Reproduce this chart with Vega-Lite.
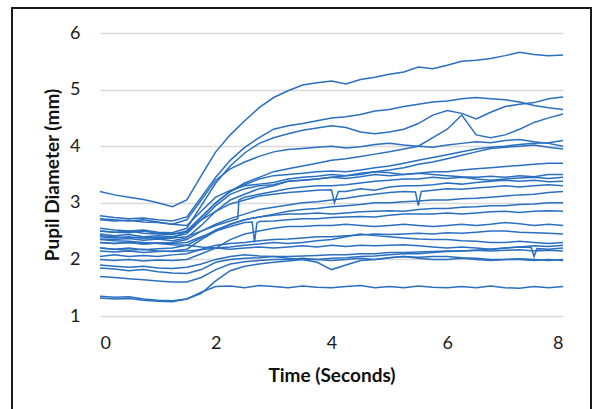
{
"$schema":"https://vega.github.io/schema/vega-lite/v6.json",
"width":579,"height":403,
"autosize":{"type":"none"},
"padding":{"left":12,"top":8,"right":2,"bottom":0},
"background":"white",
"config":{"view":{"stroke":"#1a1a1a","strokeWidth":2},"font":"Lato"},
"data":{"values":[
{"id":1,"t":0,"v":3.2},{"id":1,"t":0.25,"v":3.14},{"id":1,"t":0.5,"v":3.1},{"id":1,"t":0.75,"v":3.06},{"id":1,"t":1,"v":3.0},{"id":1,"t":1.25,"v":2.93},{"id":1,"t":1.5,"v":3.05},{"id":1,"t":1.75,"v":3.48},{"id":1,"t":2,"v":3.9},{"id":1,"t":2.25,"v":4.2},{"id":1,"t":2.5,"v":4.45},{"id":1,"t":2.75,"v":4.68},{"id":1,"t":3,"v":4.86},{"id":1,"t":3.25,"v":4.98},{"id":1,"t":3.5,"v":5.08},{"id":1,"t":3.75,"v":5.12},{"id":1,"t":4,"v":5.15},{"id":1,"t":4.25,"v":5.1},{"id":1,"t":4.5,"v":5.18},{"id":1,"t":4.75,"v":5.22},{"id":1,"t":5,"v":5.27},{"id":1,"t":5.25,"v":5.31},{"id":1,"t":5.5,"v":5.4},{"id":1,"t":5.75,"v":5.37},{"id":1,"t":6,"v":5.43},{"id":1,"t":6.25,"v":5.5},{"id":1,"t":6.5,"v":5.52},{"id":1,"t":6.75,"v":5.55},{"id":1,"t":7,"v":5.6},{"id":1,"t":7.25,"v":5.66},{"id":1,"t":7.5,"v":5.62},{"id":1,"t":7.75,"v":5.6},{"id":1,"t":8,"v":5.61},
{"id":2,"t":0,"v":2.77},{"id":2,"t":0.25,"v":2.74},{"id":2,"t":0.5,"v":2.72},{"id":2,"t":0.75,"v":2.73},{"id":2,"t":1,"v":2.7},{"id":2,"t":1.25,"v":2.68},{"id":2,"t":1.5,"v":2.75},{"id":2,"t":1.75,"v":3.1},{"id":2,"t":2,"v":3.45},{"id":2,"t":2.25,"v":3.75},{"id":2,"t":2.5,"v":3.98},{"id":2,"t":2.75,"v":4.15},{"id":2,"t":3,"v":4.3},{"id":2,"t":3.25,"v":4.36},{"id":2,"t":3.5,"v":4.4},{"id":2,"t":3.75,"v":4.45},{"id":2,"t":4,"v":4.5},{"id":2,"t":4.25,"v":4.52},{"id":2,"t":4.5,"v":4.56},{"id":2,"t":4.75,"v":4.62},{"id":2,"t":5,"v":4.65},{"id":2,"t":5.25,"v":4.7},{"id":2,"t":5.5,"v":4.74},{"id":2,"t":5.75,"v":4.78},{"id":2,"t":6,"v":4.8},{"id":2,"t":6.25,"v":4.84},{"id":2,"t":6.5,"v":4.86},{"id":2,"t":6.75,"v":4.84},{"id":2,"t":7,"v":4.82},{"id":2,"t":7.25,"v":4.78},{"id":2,"t":7.5,"v":4.72},{"id":2,"t":7.75,"v":4.68},{"id":2,"t":8,"v":4.65},
{"id":3,"t":0,"v":2.55},{"id":3,"t":0.25,"v":2.52},{"id":3,"t":0.5,"v":2.5},{"id":3,"t":0.75,"v":2.52},{"id":3,"t":1,"v":2.48},{"id":3,"t":1.25,"v":2.47},{"id":3,"t":1.5,"v":2.55},{"id":3,"t":1.75,"v":2.95},{"id":3,"t":2,"v":3.35},{"id":3,"t":2.25,"v":3.65},{"id":3,"t":2.5,"v":3.88},{"id":3,"t":2.75,"v":4.05},{"id":3,"t":3,"v":4.15},{"id":3,"t":3.25,"v":4.22},{"id":3,"t":3.5,"v":4.28},{"id":3,"t":3.75,"v":4.32},{"id":3,"t":4,"v":4.36},{"id":3,"t":4.25,"v":4.33},{"id":3,"t":4.5,"v":4.25},{"id":3,"t":4.75,"v":4.22},{"id":3,"t":5,"v":4.25},{"id":3,"t":5.25,"v":4.3},{"id":3,"t":5.5,"v":4.4},{"id":3,"t":5.75,"v":4.55},{"id":3,"t":6,"v":4.63},{"id":3,"t":6.25,"v":4.58},{"id":3,"t":6.5,"v":4.48},{"id":3,"t":6.75,"v":4.6},{"id":3,"t":7,"v":4.7},{"id":3,"t":7.25,"v":4.74},{"id":3,"t":7.5,"v":4.77},{"id":3,"t":7.75,"v":4.84},{"id":3,"t":8,"v":4.87},
{"id":4,"t":0,"v":2.42},{"id":4,"t":0.25,"v":2.4},{"id":4,"t":0.5,"v":2.38},{"id":4,"t":0.75,"v":2.4},{"id":4,"t":1,"v":2.37},{"id":4,"t":1.25,"v":2.38},{"id":4,"t":1.5,"v":2.5},{"id":4,"t":1.75,"v":2.75},{"id":4,"t":2,"v":3.0},{"id":4,"t":2.25,"v":3.2},{"id":4,"t":2.5,"v":3.35},{"id":4,"t":2.75,"v":3.45},{"id":4,"t":3,"v":3.55},{"id":4,"t":3.25,"v":3.6},{"id":4,"t":3.5,"v":3.65},{"id":4,"t":3.75,"v":3.7},{"id":4,"t":4,"v":3.75},{"id":4,"t":4.25,"v":3.78},{"id":4,"t":4.5,"v":3.82},{"id":4,"t":4.75,"v":3.86},{"id":4,"t":5,"v":3.9},{"id":4,"t":5.25,"v":3.95},{"id":4,"t":5.5,"v":4.0},{"id":4,"t":5.75,"v":4.15},{"id":4,"t":6,"v":4.3},{"id":4,"t":6.25,"v":4.55},{"id":4,"t":6.5,"v":4.2},{"id":4,"t":6.75,"v":4.15},{"id":4,"t":7,"v":4.2},{"id":4,"t":7.25,"v":4.3},{"id":4,"t":7.5,"v":4.42},{"id":4,"t":7.75,"v":4.5},{"id":4,"t":8,"v":4.57},
{"id":5,"t":0,"v":2.72},{"id":5,"t":0.25,"v":2.7},{"id":5,"t":0.5,"v":2.68},{"id":5,"t":0.75,"v":2.7},{"id":5,"t":1,"v":2.66},{"id":5,"t":1.25,"v":2.62},{"id":5,"t":1.5,"v":2.7},{"id":5,"t":1.75,"v":3.05},{"id":5,"t":2,"v":3.4},{"id":5,"t":2.25,"v":3.6},{"id":5,"t":2.5,"v":3.72},{"id":5,"t":2.75,"v":3.82},{"id":5,"t":3,"v":3.9},{"id":5,"t":3.25,"v":3.94},{"id":5,"t":3.5,"v":3.96},{"id":5,"t":3.75,"v":3.98},{"id":5,"t":4,"v":4.0},{"id":5,"t":4.25,"v":3.97},{"id":5,"t":4.5,"v":3.99},{"id":5,"t":4.75,"v":4.03},{"id":5,"t":5,"v":4.05},{"id":5,"t":5.25,"v":4.02},{"id":5,"t":5.5,"v":4.0},{"id":5,"t":5.75,"v":3.98},{"id":5,"t":6,"v":4.02},{"id":5,"t":6.25,"v":4.05},{"id":5,"t":6.5,"v":4.08},{"id":5,"t":6.75,"v":4.06},{"id":5,"t":7,"v":4.1},{"id":5,"t":7.25,"v":4.12},{"id":5,"t":7.5,"v":4.08},{"id":5,"t":7.75,"v":4.05},{"id":5,"t":8,"v":4.0},
{"id":6,"t":0,"v":2.5},{"id":6,"t":0.25,"v":2.48},{"id":6,"t":0.5,"v":2.5},{"id":6,"t":0.75,"v":2.46},{"id":6,"t":1,"v":2.45},{"id":6,"t":1.25,"v":2.44},{"id":6,"t":1.5,"v":2.5},{"id":6,"t":1.75,"v":2.75},{"id":6,"t":2,"v":3.0},{"id":6,"t":2.25,"v":3.2},{"id":6,"t":2.5,"v":3.32},{"id":6,"t":2.75,"v":3.42},{"id":6,"t":3,"v":3.48},{"id":6,"t":3.25,"v":3.5},{"id":6,"t":3.5,"v":3.52},{"id":6,"t":3.75,"v":3.55},{"id":6,"t":4,"v":3.56},{"id":6,"t":4.25,"v":3.55},{"id":6,"t":4.5,"v":3.58},{"id":6,"t":4.75,"v":3.62},{"id":6,"t":5,"v":3.65},{"id":6,"t":5.25,"v":3.7},{"id":6,"t":5.5,"v":3.75},{"id":6,"t":5.75,"v":3.8},{"id":6,"t":6,"v":3.85},{"id":6,"t":6.25,"v":3.9},{"id":6,"t":6.5,"v":3.95},{"id":6,"t":6.75,"v":3.98},{"id":6,"t":7,"v":4.0},{"id":6,"t":7.25,"v":4.03},{"id":6,"t":7.5,"v":4.05},{"id":6,"t":7.75,"v":4.06},{"id":6,"t":8,"v":4.1},
{"id":7,"t":0,"v":2.36},{"id":7,"t":0.25,"v":2.35},{"id":7,"t":0.5,"v":2.37},{"id":7,"t":0.75,"v":2.34},{"id":7,"t":1,"v":2.36},{"id":7,"t":1.25,"v":2.33},{"id":7,"t":1.5,"v":2.38},{"id":7,"t":1.75,"v":2.6},{"id":7,"t":2,"v":2.85},{"id":7,"t":2.25,"v":3.05},{"id":7,"t":2.5,"v":3.15},{"id":7,"t":2.75,"v":3.25},{"id":7,"t":3,"v":3.3},{"id":7,"t":3.25,"v":3.38},{"id":7,"t":3.5,"v":3.4},{"id":7,"t":3.75,"v":3.42},{"id":7,"t":4,"v":3.45},{"id":7,"t":4.25,"v":3.48},{"id":7,"t":4.5,"v":3.5},{"id":7,"t":4.75,"v":3.55},{"id":7,"t":5,"v":3.58},{"id":7,"t":5.25,"v":3.62},{"id":7,"t":5.5,"v":3.68},{"id":7,"t":5.75,"v":3.72},{"id":7,"t":6,"v":3.78},{"id":7,"t":6.25,"v":3.84},{"id":7,"t":6.5,"v":3.9},{"id":7,"t":6.75,"v":3.96},{"id":7,"t":7,"v":3.98},{"id":7,"t":7.25,"v":4.0},{"id":7,"t":7.5,"v":4.02},{"id":7,"t":7.75,"v":3.98},{"id":7,"t":8,"v":3.95},
{"id":8,"t":0,"v":2.45},{"id":8,"t":0.25,"v":2.42},{"id":8,"t":0.5,"v":2.44},{"id":8,"t":0.75,"v":2.4},{"id":8,"t":1,"v":2.42},{"id":8,"t":1.25,"v":2.4},{"id":8,"t":1.5,"v":2.45},{"id":8,"t":1.75,"v":2.7},{"id":8,"t":2,"v":2.95},{"id":8,"t":2.25,"v":3.15},{"id":8,"t":2.5,"v":3.25},{"id":8,"t":2.75,"v":3.3},{"id":8,"t":3,"v":3.32},{"id":8,"t":3.25,"v":3.38},{"id":8,"t":3.5,"v":3.4},{"id":8,"t":3.75,"v":3.42},{"id":8,"t":4,"v":3.45},{"id":8,"t":4.25,"v":3.43},{"id":8,"t":4.5,"v":3.46},{"id":8,"t":4.75,"v":3.5},{"id":8,"t":5,"v":3.48},{"id":8,"t":5.25,"v":3.5},{"id":8,"t":5.5,"v":3.52},{"id":8,"t":5.75,"v":3.55},{"id":8,"t":6,"v":3.55},{"id":8,"t":6.25,"v":3.58},{"id":8,"t":6.5,"v":3.6},{"id":8,"t":6.75,"v":3.62},{"id":8,"t":7,"v":3.64},{"id":8,"t":7.25,"v":3.66},{"id":8,"t":7.5,"v":3.68},{"id":8,"t":7.75,"v":3.7},{"id":8,"t":8,"v":3.7},
{"id":9,"t":0,"v":2.7},{"id":9,"t":0.25,"v":2.68},{"id":9,"t":0.5,"v":2.69},{"id":9,"t":0.75,"v":2.66},{"id":9,"t":1,"v":2.65},{"id":9,"t":1.25,"v":2.62},{"id":9,"t":1.5,"v":2.6},{"id":9,"t":1.75,"v":2.85},{"id":9,"t":2,"v":3.1},{"id":9,"t":2.25,"v":3.22},{"id":9,"t":2.5,"v":3.3},{"id":9,"t":2.75,"v":3.33},{"id":9,"t":3,"v":3.36},{"id":9,"t":3.25,"v":3.42},{"id":9,"t":3.5,"v":3.45},{"id":9,"t":3.75,"v":3.47},{"id":9,"t":4,"v":3.5},{"id":9,"t":4.25,"v":3.48},{"id":9,"t":4.5,"v":3.52},{"id":9,"t":4.75,"v":3.55},{"id":9,"t":5,"v":3.53},{"id":9,"t":5.25,"v":3.5},{"id":9,"t":5.5,"v":3.52},{"id":9,"t":5.75,"v":3.5},{"id":9,"t":6,"v":3.48},{"id":9,"t":6.25,"v":3.46},{"id":9,"t":6.5,"v":3.45},{"id":9,"t":6.75,"v":3.47},{"id":9,"t":7,"v":3.45},{"id":9,"t":7.25,"v":3.48},{"id":9,"t":7.5,"v":3.46},{"id":9,"t":7.75,"v":3.5},{"id":9,"t":8,"v":3.5},
{"id":10,"t":0,"v":2.3},{"id":10,"t":0.25,"v":2.28},{"id":10,"t":0.5,"v":2.3},{"id":10,"t":0.75,"v":2.27},{"id":10,"t":1,"v":2.29},{"id":10,"t":1.25,"v":2.3},{"id":10,"t":1.5,"v":2.35},{"id":10,"t":1.75,"v":2.5},{"id":10,"t":2,"v":2.6},{"id":10,"t":2.25,"v":2.68},{"id":10,"t":2.38,"v":2.72},{"id":10,"t":2.4,"v":3.05},{"id":10,"t":2.5,"v":3.1},{"id":10,"t":2.75,"v":3.15},{"id":10,"t":3,"v":3.2},{"id":10,"t":3.25,"v":3.25},{"id":10,"t":3.5,"v":3.28},{"id":10,"t":3.75,"v":3.3},{"id":10,"t":4,"v":3.3},{"id":10,"t":4.25,"v":3.32},{"id":10,"t":4.5,"v":3.35},{"id":10,"t":4.75,"v":3.38},{"id":10,"t":5,"v":3.4},{"id":10,"t":5.25,"v":3.42},{"id":10,"t":5.5,"v":3.42},{"id":10,"t":5.75,"v":3.45},{"id":10,"t":6,"v":3.43},{"id":10,"t":6.25,"v":3.45},{"id":10,"t":6.5,"v":3.42},{"id":10,"t":6.75,"v":3.4},{"id":10,"t":7,"v":3.42},{"id":10,"t":7.25,"v":3.44},{"id":10,"t":7.5,"v":3.45},{"id":10,"t":7.75,"v":3.43},{"id":10,"t":8,"v":3.45},
{"id":11,"t":0,"v":2.5},{"id":11,"t":0.25,"v":2.48},{"id":11,"t":0.5,"v":2.47},{"id":11,"t":0.75,"v":2.5},{"id":11,"t":1,"v":2.46},{"id":11,"t":1.25,"v":2.45},{"id":11,"t":1.5,"v":2.48},{"id":11,"t":1.75,"v":2.7},{"id":11,"t":2,"v":2.85},{"id":11,"t":2.25,"v":2.98},{"id":11,"t":2.5,"v":3.05},{"id":11,"t":2.75,"v":3.12},{"id":11,"t":3,"v":3.15},{"id":11,"t":3.25,"v":3.18},{"id":11,"t":3.5,"v":3.2},{"id":11,"t":3.75,"v":3.22},{"id":11,"t":4,"v":3.23},{"id":11,"t":4.05,"v":3.0},{"id":11,"t":4.12,"v":3.2},{"id":11,"t":4.25,"v":3.2},{"id":11,"t":4.5,"v":3.25},{"id":11,"t":4.75,"v":3.22},{"id":11,"t":5,"v":3.28},{"id":11,"t":5.25,"v":3.3},{"id":11,"t":5.5,"v":3.3},{"id":11,"t":5.75,"v":3.32},{"id":11,"t":6,"v":3.35},{"id":11,"t":6.25,"v":3.33},{"id":11,"t":6.5,"v":3.36},{"id":11,"t":6.75,"v":3.38},{"id":11,"t":7,"v":3.4},{"id":11,"t":7.25,"v":3.38},{"id":11,"t":7.5,"v":3.4},{"id":11,"t":7.75,"v":3.37},{"id":11,"t":8,"v":3.38},
{"id":12,"t":0,"v":2.4},{"id":12,"t":0.25,"v":2.38},{"id":12,"t":0.5,"v":2.4},{"id":12,"t":0.75,"v":2.37},{"id":12,"t":1,"v":2.39},{"id":12,"t":1.25,"v":2.38},{"id":12,"t":1.5,"v":2.4},{"id":12,"t":1.75,"v":2.5},{"id":12,"t":2,"v":2.62},{"id":12,"t":2.25,"v":2.72},{"id":12,"t":2.5,"v":2.8},{"id":12,"t":2.75,"v":2.88},{"id":12,"t":3,"v":2.92},{"id":12,"t":3.25,"v":2.96},{"id":12,"t":3.5,"v":3.0},{"id":12,"t":3.75,"v":3.02},{"id":12,"t":4,"v":3.05},{"id":12,"t":4.25,"v":3.08},{"id":12,"t":4.5,"v":3.12},{"id":12,"t":4.75,"v":3.15},{"id":12,"t":5,"v":3.18},{"id":12,"t":5.25,"v":3.2},{"id":12,"t":5.45,"v":3.19},{"id":12,"t":5.5,"v":2.95},{"id":12,"t":5.55,"v":3.2},{"id":12,"t":5.75,"v":3.22},{"id":12,"t":6,"v":3.25},{"id":12,"t":6.25,"v":3.24},{"id":12,"t":6.5,"v":3.26},{"id":12,"t":6.75,"v":3.28},{"id":12,"t":7,"v":3.3},{"id":12,"t":7.25,"v":3.28},{"id":12,"t":7.5,"v":3.3},{"id":12,"t":7.75,"v":3.32},{"id":12,"t":8,"v":3.3},
{"id":13,"t":0,"v":2.2},{"id":13,"t":0.25,"v":2.18},{"id":13,"t":0.5,"v":2.2},{"id":13,"t":0.75,"v":2.17},{"id":13,"t":1,"v":2.19},{"id":13,"t":1.25,"v":2.2},{"id":13,"t":1.5,"v":2.25},{"id":13,"t":1.75,"v":2.38},{"id":13,"t":2,"v":2.52},{"id":13,"t":2.25,"v":2.62},{"id":13,"t":2.5,"v":2.7},{"id":13,"t":2.75,"v":2.75},{"id":13,"t":3,"v":2.8},{"id":13,"t":3.25,"v":2.85},{"id":13,"t":3.5,"v":2.88},{"id":13,"t":3.75,"v":2.9},{"id":13,"t":4,"v":2.93},{"id":13,"t":4.25,"v":2.95},{"id":13,"t":4.5,"v":2.97},{"id":13,"t":4.75,"v":3.0},{"id":13,"t":5,"v":3.0},{"id":13,"t":5.25,"v":3.02},{"id":13,"t":5.5,"v":3.03},{"id":13,"t":5.75,"v":3.05},{"id":13,"t":6,"v":3.05},{"id":13,"t":6.25,"v":3.07},{"id":13,"t":6.5,"v":3.08},{"id":13,"t":6.75,"v":3.1},{"id":13,"t":7,"v":3.12},{"id":13,"t":7.25,"v":3.14},{"id":13,"t":7.5,"v":3.15},{"id":13,"t":7.75,"v":3.18},{"id":13,"t":8,"v":3.2},
{"id":14,"t":0,"v":2.3},{"id":14,"t":0.25,"v":2.28},{"id":14,"t":0.5,"v":2.3},{"id":14,"t":0.75,"v":2.27},{"id":14,"t":1,"v":2.29},{"id":14,"t":1.25,"v":2.28},{"id":14,"t":1.5,"v":2.3},{"id":14,"t":1.75,"v":2.4},{"id":14,"t":2,"v":2.5},{"id":14,"t":2.25,"v":2.62},{"id":14,"t":2.5,"v":2.7},{"id":14,"t":2.75,"v":2.75},{"id":14,"t":3,"v":2.78},{"id":14,"t":3.25,"v":2.8},{"id":14,"t":3.5,"v":2.8},{"id":14,"t":3.75,"v":2.82},{"id":14,"t":4,"v":2.8},{"id":14,"t":4.25,"v":2.82},{"id":14,"t":4.5,"v":2.84},{"id":14,"t":4.75,"v":2.85},{"id":14,"t":5,"v":2.86},{"id":14,"t":5.25,"v":2.85},{"id":14,"t":5.5,"v":2.88},{"id":14,"t":5.75,"v":2.9},{"id":14,"t":6,"v":2.9},{"id":14,"t":6.25,"v":2.92},{"id":14,"t":6.5,"v":2.93},{"id":14,"t":6.75,"v":2.95},{"id":14,"t":7,"v":2.95},{"id":14,"t":7.25,"v":2.97},{"id":14,"t":7.5,"v":2.98},{"id":14,"t":7.75,"v":3.0},{"id":14,"t":8,"v":3.0},
{"id":15,"t":0,"v":2.15},{"id":15,"t":0.25,"v":2.13},{"id":15,"t":0.5,"v":2.15},{"id":15,"t":0.75,"v":2.12},{"id":15,"t":1,"v":2.14},{"id":15,"t":1.25,"v":2.15},{"id":15,"t":1.5,"v":2.18},{"id":15,"t":1.75,"v":2.35},{"id":15,"t":2,"v":2.5},{"id":15,"t":2.25,"v":2.58},{"id":15,"t":2.5,"v":2.65},{"id":15,"t":2.63,"v":2.66},{"id":15,"t":2.67,"v":2.3},{"id":15,"t":2.71,"v":2.64},{"id":15,"t":2.75,"v":2.67},{"id":15,"t":3,"v":2.68},{"id":15,"t":3.25,"v":2.7},{"id":15,"t":3.5,"v":2.72},{"id":15,"t":3.75,"v":2.72},{"id":15,"t":4,"v":2.74},{"id":15,"t":4.25,"v":2.75},{"id":15,"t":4.5,"v":2.76},{"id":15,"t":4.75,"v":2.75},{"id":15,"t":5,"v":2.78},{"id":15,"t":5.25,"v":2.8},{"id":15,"t":5.5,"v":2.8},{"id":15,"t":5.75,"v":2.8},{"id":15,"t":6,"v":2.82},{"id":15,"t":6.25,"v":2.8},{"id":15,"t":6.5,"v":2.82},{"id":15,"t":6.75,"v":2.84},{"id":15,"t":7,"v":2.85},{"id":15,"t":7.25,"v":2.83},{"id":15,"t":7.5,"v":2.85},{"id":15,"t":7.75,"v":2.86},{"id":15,"t":8,"v":2.85},
{"id":16,"t":0,"v":2.0},{"id":16,"t":0.25,"v":1.98},{"id":16,"t":0.5,"v":2.0},{"id":16,"t":0.75,"v":1.97},{"id":16,"t":1,"v":1.99},{"id":16,"t":1.25,"v":1.98},{"id":16,"t":1.5,"v":2.0},{"id":16,"t":1.75,"v":2.1},{"id":16,"t":2,"v":2.2},{"id":16,"t":2.25,"v":2.35},{"id":16,"t":2.5,"v":2.45},{"id":16,"t":2.75,"v":2.5},{"id":16,"t":3,"v":2.55},{"id":16,"t":3.25,"v":2.58},{"id":16,"t":3.5,"v":2.58},{"id":16,"t":3.75,"v":2.6},{"id":16,"t":4,"v":2.6},{"id":16,"t":4.25,"v":2.62},{"id":16,"t":4.5,"v":2.6},{"id":16,"t":4.75,"v":2.58},{"id":16,"t":5,"v":2.6},{"id":16,"t":5.25,"v":2.62},{"id":16,"t":5.5,"v":2.6},{"id":16,"t":5.75,"v":2.58},{"id":16,"t":6,"v":2.6},{"id":16,"t":6.25,"v":2.62},{"id":16,"t":6.5,"v":2.6},{"id":16,"t":6.75,"v":2.62},{"id":16,"t":7,"v":2.65},{"id":16,"t":7.25,"v":2.63},{"id":16,"t":7.5,"v":2.6},{"id":16,"t":7.75,"v":2.62},{"id":16,"t":8,"v":2.6},
{"id":17,"t":0,"v":2.05},{"id":17,"t":0.25,"v":2.08},{"id":17,"t":0.5,"v":2.05},{"id":17,"t":0.75,"v":2.07},{"id":17,"t":1,"v":2.05},{"id":17,"t":1.25,"v":2.08},{"id":17,"t":1.5,"v":2.1},{"id":17,"t":1.75,"v":2.18},{"id":17,"t":2,"v":2.25},{"id":17,"t":2.25,"v":2.28},{"id":17,"t":2.5,"v":2.3},{"id":17,"t":2.75,"v":2.33},{"id":17,"t":3,"v":2.35},{"id":17,"t":3.25,"v":2.36},{"id":17,"t":3.5,"v":2.38},{"id":17,"t":3.75,"v":2.4},{"id":17,"t":4,"v":2.4},{"id":17,"t":4.25,"v":2.42},{"id":17,"t":4.5,"v":2.43},{"id":17,"t":4.75,"v":2.45},{"id":17,"t":5,"v":2.44},{"id":17,"t":5.25,"v":2.45},{"id":17,"t":5.5,"v":2.46},{"id":17,"t":5.75,"v":2.45},{"id":17,"t":6,"v":2.47},{"id":17,"t":6.25,"v":2.46},{"id":17,"t":6.5,"v":2.48},{"id":17,"t":6.75,"v":2.5},{"id":17,"t":7,"v":2.5},{"id":17,"t":7.25,"v":2.48},{"id":17,"t":7.5,"v":2.47},{"id":17,"t":7.75,"v":2.46},{"id":17,"t":8,"v":2.45},
{"id":18,"t":0,"v":2.35},{"id":18,"t":0.25,"v":2.33},{"id":18,"t":0.5,"v":2.32},{"id":18,"t":0.75,"v":2.3},{"id":18,"t":1,"v":2.28},{"id":18,"t":1.25,"v":2.26},{"id":18,"t":1.5,"v":2.25},{"id":18,"t":1.75,"v":2.22},{"id":18,"t":2,"v":2.2},{"id":18,"t":2.25,"v":2.22},{"id":18,"t":2.5,"v":2.25},{"id":18,"t":2.75,"v":2.27},{"id":18,"t":3,"v":2.3},{"id":18,"t":3.25,"v":2.28},{"id":18,"t":3.5,"v":2.3},{"id":18,"t":3.75,"v":2.33},{"id":18,"t":4,"v":2.35},{"id":18,"t":4.25,"v":2.4},{"id":18,"t":4.5,"v":2.45},{"id":18,"t":4.75,"v":2.42},{"id":18,"t":5,"v":2.4},{"id":18,"t":5.25,"v":2.38},{"id":18,"t":5.5,"v":2.36},{"id":18,"t":5.75,"v":2.35},{"id":18,"t":6,"v":2.35},{"id":18,"t":6.25,"v":2.33},{"id":18,"t":6.5,"v":2.32},{"id":18,"t":6.75,"v":2.3},{"id":18,"t":7,"v":2.3},{"id":18,"t":7.25,"v":2.32},{"id":18,"t":7.5,"v":2.3},{"id":18,"t":7.75,"v":2.28},{"id":18,"t":8,"v":2.3},
{"id":19,"t":0,"v":2.2},{"id":19,"t":0.25,"v":2.18},{"id":19,"t":0.5,"v":2.16},{"id":19,"t":0.75,"v":2.18},{"id":19,"t":1,"v":2.15},{"id":19,"t":1.25,"v":2.14},{"id":19,"t":1.5,"v":2.15},{"id":19,"t":1.75,"v":2.17},{"id":19,"t":2,"v":2.2},{"id":19,"t":2.25,"v":2.18},{"id":19,"t":2.5,"v":2.2},{"id":19,"t":2.75,"v":2.22},{"id":19,"t":3,"v":2.2},{"id":19,"t":3.25,"v":2.22},{"id":19,"t":3.5,"v":2.24},{"id":19,"t":3.75,"v":2.22},{"id":19,"t":4,"v":2.25},{"id":19,"t":4.25,"v":2.23},{"id":19,"t":4.5,"v":2.25},{"id":19,"t":4.75,"v":2.24},{"id":19,"t":5,"v":2.25},{"id":19,"t":5.25,"v":2.26},{"id":19,"t":5.5,"v":2.24},{"id":19,"t":5.75,"v":2.22},{"id":19,"t":6,"v":2.2},{"id":19,"t":6.25,"v":2.22},{"id":19,"t":6.5,"v":2.2},{"id":19,"t":6.75,"v":2.18},{"id":19,"t":7,"v":2.2},{"id":19,"t":7.25,"v":2.22},{"id":19,"t":7.45,"v":2.21},{"id":19,"t":7.5,"v":2.05},{"id":19,"t":7.55,"v":2.19},{"id":19,"t":7.75,"v":2.18},{"id":19,"t":8,"v":2.2},
{"id":20,"t":0,"v":1.9},{"id":20,"t":0.25,"v":1.88},{"id":20,"t":0.5,"v":1.86},{"id":20,"t":0.75,"v":1.88},{"id":20,"t":1,"v":1.85},{"id":20,"t":1.25,"v":1.84},{"id":20,"t":1.5,"v":1.86},{"id":20,"t":1.75,"v":1.92},{"id":20,"t":2,"v":2.0},{"id":20,"t":2.25,"v":2.05},{"id":20,"t":2.5,"v":2.08},{"id":20,"t":2.75,"v":2.06},{"id":20,"t":3,"v":2.05},{"id":20,"t":3.25,"v":2.02},{"id":20,"t":3.5,"v":2.0},{"id":20,"t":3.75,"v":1.95},{"id":20,"t":4,"v":1.82},{"id":20,"t":4.25,"v":1.9},{"id":20,"t":4.5,"v":1.98},{"id":20,"t":4.75,"v":2.0},{"id":20,"t":5,"v":2.03},{"id":20,"t":5.25,"v":2.05},{"id":20,"t":5.5,"v":2.04},{"id":20,"t":5.75,"v":2.05},{"id":20,"t":6,"v":2.05},{"id":20,"t":6.25,"v":2.03},{"id":20,"t":6.5,"v":2.02},{"id":20,"t":6.75,"v":2.0},{"id":20,"t":7,"v":2.0},{"id":20,"t":7.25,"v":2.01},{"id":20,"t":7.5,"v":2.0},{"id":20,"t":7.75,"v":1.98},{"id":20,"t":8,"v":2.0},
{"id":21,"t":0,"v":1.85},{"id":21,"t":0.25,"v":1.83},{"id":21,"t":0.5,"v":1.8},{"id":21,"t":0.75,"v":1.82},{"id":21,"t":1,"v":1.78},{"id":21,"t":1.25,"v":1.76},{"id":21,"t":1.5,"v":1.75},{"id":21,"t":1.75,"v":1.82},{"id":21,"t":2,"v":1.95},{"id":21,"t":2.25,"v":2.0},{"id":21,"t":2.5,"v":2.02},{"id":21,"t":2.75,"v":2.03},{"id":21,"t":3,"v":2.05},{"id":21,"t":3.25,"v":2.05},{"id":21,"t":3.5,"v":2.06},{"id":21,"t":3.75,"v":2.07},{"id":21,"t":4,"v":2.08},{"id":21,"t":4.25,"v":2.08},{"id":21,"t":4.5,"v":2.1},{"id":21,"t":4.75,"v":2.1},{"id":21,"t":5,"v":2.12},{"id":21,"t":5.25,"v":2.12},{"id":21,"t":5.5,"v":2.13},{"id":21,"t":5.75,"v":2.14},{"id":21,"t":6,"v":2.15},{"id":21,"t":6.25,"v":2.15},{"id":21,"t":6.5,"v":2.16},{"id":21,"t":6.75,"v":2.15},{"id":21,"t":7,"v":2.16},{"id":21,"t":7.25,"v":2.17},{"id":21,"t":7.5,"v":2.15},{"id":21,"t":7.75,"v":2.16},{"id":21,"t":8,"v":2.15},
{"id":22,"t":0,"v":1.7},{"id":22,"t":0.25,"v":1.68},{"id":22,"t":0.5,"v":1.66},{"id":22,"t":0.75,"v":1.64},{"id":22,"t":1,"v":1.62},{"id":22,"t":1.25,"v":1.6},{"id":22,"t":1.5,"v":1.6},{"id":22,"t":1.75,"v":1.68},{"id":22,"t":2,"v":1.82},{"id":22,"t":2.25,"v":1.92},{"id":22,"t":2.5,"v":1.96},{"id":22,"t":2.75,"v":1.98},{"id":22,"t":3,"v":2.0},{"id":22,"t":3.25,"v":2.0},{"id":22,"t":3.5,"v":2.02},{"id":22,"t":3.75,"v":2.0},{"id":22,"t":4,"v":2.02},{"id":22,"t":4.25,"v":2.03},{"id":22,"t":4.5,"v":2.05},{"id":22,"t":4.75,"v":2.06},{"id":22,"t":5,"v":2.08},{"id":22,"t":5.25,"v":2.1},{"id":22,"t":5.5,"v":2.1},{"id":22,"t":5.75,"v":2.12},{"id":22,"t":6,"v":2.14},{"id":22,"t":6.25,"v":2.15},{"id":22,"t":6.5,"v":2.16},{"id":22,"t":6.75,"v":2.18},{"id":22,"t":7,"v":2.2},{"id":22,"t":7.25,"v":2.22},{"id":22,"t":7.5,"v":2.24},{"id":22,"t":7.75,"v":2.23},{"id":22,"t":8,"v":2.25},
{"id":23,"t":0,"v":1.35},{"id":23,"t":0.25,"v":1.33},{"id":23,"t":0.5,"v":1.34},{"id":23,"t":0.75,"v":1.3},{"id":23,"t":1,"v":1.28},{"id":23,"t":1.25,"v":1.27},{"id":23,"t":1.5,"v":1.3},{"id":23,"t":1.75,"v":1.42},{"id":23,"t":2,"v":1.52},{"id":23,"t":2.25,"v":1.53},{"id":23,"t":2.5,"v":1.5},{"id":23,"t":2.75,"v":1.54},{"id":23,"t":3,"v":1.52},{"id":23,"t":3.25,"v":1.5},{"id":23,"t":3.5,"v":1.53},{"id":23,"t":3.75,"v":1.51},{"id":23,"t":4,"v":1.5},{"id":23,"t":4.25,"v":1.52},{"id":23,"t":4.5,"v":1.54},{"id":23,"t":4.75,"v":1.5},{"id":23,"t":5,"v":1.52},{"id":23,"t":5.25,"v":1.5},{"id":23,"t":5.5,"v":1.53},{"id":23,"t":5.75,"v":1.51},{"id":23,"t":6,"v":1.5},{"id":23,"t":6.25,"v":1.52},{"id":23,"t":6.5,"v":1.5},{"id":23,"t":6.75,"v":1.53},{"id":23,"t":7,"v":1.5},{"id":23,"t":7.25,"v":1.49},{"id":23,"t":7.5,"v":1.52},{"id":23,"t":7.75,"v":1.5},{"id":23,"t":8,"v":1.52},
{"id":24,"t":0,"v":1.32},{"id":24,"t":0.25,"v":1.3},{"id":24,"t":0.5,"v":1.31},{"id":24,"t":0.75,"v":1.28},{"id":24,"t":1,"v":1.26},{"id":24,"t":1.25,"v":1.25},{"id":24,"t":1.5,"v":1.3},{"id":24,"t":1.75,"v":1.4},{"id":24,"t":2,"v":1.62},{"id":24,"t":2.25,"v":1.8},{"id":24,"t":2.5,"v":1.88},{"id":24,"t":2.75,"v":1.92},{"id":24,"t":3,"v":1.95},{"id":24,"t":3.25,"v":1.97},{"id":24,"t":3.5,"v":2.0},{"id":24,"t":3.75,"v":2.0},{"id":24,"t":4,"v":1.98},{"id":24,"t":4.25,"v":2.0},{"id":24,"t":4.5,"v":2.02},{"id":24,"t":4.75,"v":2.0},{"id":24,"t":5,"v":2.03},{"id":24,"t":5.25,"v":2.05},{"id":24,"t":5.5,"v":2.02},{"id":24,"t":5.75,"v":2.0},{"id":24,"t":6,"v":2.0},{"id":24,"t":6.25,"v":2.02},{"id":24,"t":6.5,"v":2.0},{"id":24,"t":6.75,"v":1.98},{"id":24,"t":7,"v":2.0},{"id":24,"t":7.25,"v":2.0},{"id":24,"t":7.5,"v":1.98},{"id":24,"t":7.75,"v":2.0},{"id":24,"t":8,"v":1.98}
]},
"mark":{"type":"line","color":"#2A6FC0","strokeWidth":1.5},
"encoding":{
"x":{"field":"t","type":"quantitative","scale":{"domain":[0,8],"range":[88,551],"nice":false,"zero":false},
"axis":{"title":"Time (Seconds)","values":[0,2,4,6,8],"grid":false,"domain":false,"ticks":false,"tickSize":0,"offset":-95,"labelPadding":18,"labelFontSize":18,"labelColor":"#1a1a1a","labelFont":"Lato","titleFont":"Lato","titleFontSize":19,"titleFontWeight":"bold","titleColor":"#111111","titlePadding":14}},
"y":{"field":"v","type":"quantitative","scale":{"domain":[1,6],"range":[308,25],"nice":false,"zero":false},
"axis":{"title":"Pupil Diameter  (mm)","values":[1,2,3,4,5,6],"grid":true,"gridColor":"#d9d9d9","gridWidth":1.5,"domain":false,"ticks":false,"tickSize":0,"offset":-80,"labelPadding":12,"labelFontSize":18,"labelColor":"#1a1a1a","labelFont":"Lato","titleFont":"Lato","titleFontSize":19,"titleFontWeight":"bold","titleColor":"#111111","titlePadding":7}},
"detail":{"field":"id","type":"nominal"}
}
}
